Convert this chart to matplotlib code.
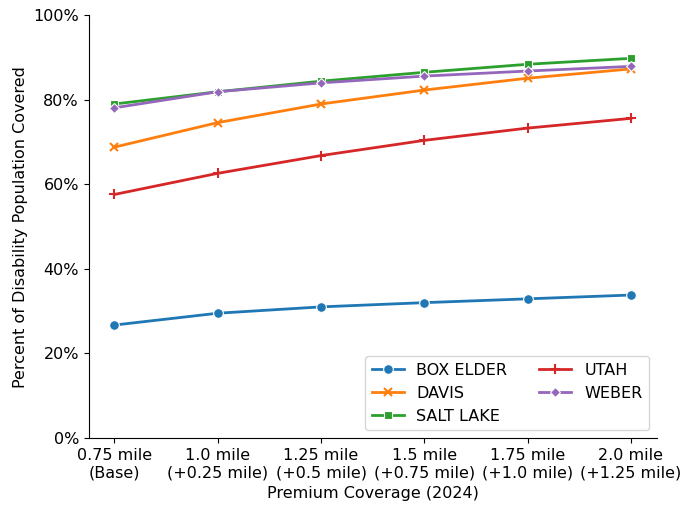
import matplotlib
matplotlib.use("Agg")
from matplotlib import pyplot as plt
from matplotlib.ticker import PercentFormatter

x_labels = ["0.75 mile\n(Base)", "1.0 mile\n(+0.25 mile)", "1.25 mile\n(+0.5 mile)",
            "1.5 mile\n(+0.75 mile)", "1.75 mile\n(+1.0 mile)", "2.0 mile\n(+1.25 mile)"]

box_elder = [0.267, 0.295, 0.310, 0.320, 0.329, 0.338]
davis = [0.688, 0.746, 0.790, 0.823, 0.851, 0.873]
salt_lake = [0.790, 0.819, 0.844, 0.865, 0.884, 0.898]
utah = [0.576, 0.626, 0.668, 0.704, 0.733, 0.756]
weber = [0.781, 0.819, 0.840, 0.856, 0.868, 0.879]

series = [
    ("BOX ELDER", box_elder, "#1f77b4", "o"),
    ("DAVIS", davis, "#ff7f0e", "x"),
    ("SALT LAKE", salt_lake, "#2ca02c", "s"),
    ("UTAH", utah, "#d62728", "+"),
    ("WEBER", weber, "#9467bd", "D"),
]

fs = 11.5
fig, ax = plt.subplots(figsize=(6.82, 5.08), dpi=100)
xs = list(range(len(x_labels)))
for name, vals, col, mk in series:
    ms = {"o": 7, "x": 6, "s": 5.5, "+": 7, "D": 5}[mk]
    ax.plot(xs, vals, color=col, marker=mk, markersize=ms, linewidth=2,
            markeredgewidth=1.5 if mk in "x+" else 0.8,
            markeredgecolor=col if mk in "x+" else "white", label=name)

ax.set_xticks(xs)
ax.set_xticklabels(x_labels, fontsize=fs)
ax.set_ylim(0, 1)
ax.set_yticks([0, 0.2, 0.4, 0.6, 0.8, 1.0])
ax.yaxis.set_major_formatter(PercentFormatter(1.0, decimals=0))
ax.tick_params(axis="y", labelsize=fs)
ax.set_xlabel("Premium Coverage (2024)", fontsize=fs)
ax.set_ylabel("Percent of Disability Population Covered", fontsize=fs)
ax.spines["top"].set_visible(False)
ax.spines["right"].set_visible(False)
ax.legend(ncol=2, loc="lower right", fontsize=fs)

fig.subplots_adjust(left=0.130, right=0.963, bottom=0.138, top=0.970)
plt.savefig("out.png")
